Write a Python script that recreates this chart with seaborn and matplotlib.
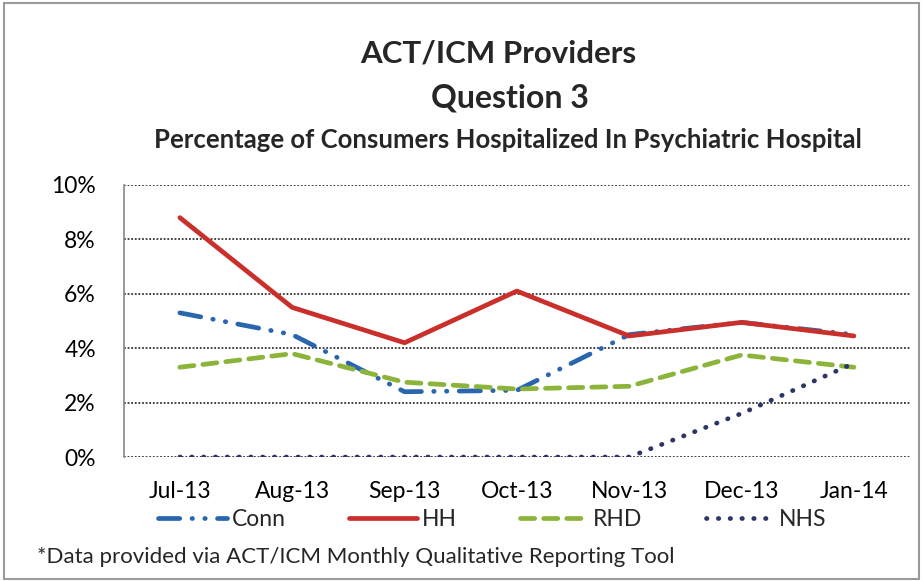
import matplotlib
matplotlib.use("Agg")
import matplotlib.pyplot as plt
import seaborn as sns
import pandas as pd
from matplotlib.patches import Rectangle
from matplotlib.ticker import PercentFormatter

months = ["Jul-13", "Aug-13", "Sep-13", "Oct-13", "Nov-13", "Dec-13", "Jan-14"]
conn = [5.3, 4.5, 2.4, 2.45, 4.5, 4.95, 4.5]
hh = [8.8, 5.5, 4.2, 6.1, 4.45, 4.95, 4.45]
rhd = [3.3, 3.8, 2.75, 2.5, 2.6, 3.75, 3.3]
nhs = [0.0, 0.0, 0.0, 0.0, 0.0, 1.6, 3.45]
series_names = ["Conn", "HH", "RHD", "NHS"]

sns.set_theme(style="white")
plt.rcParams['font.family'] = ['Lato', 'DejaVu Sans']

rows = []
for name, vals in zip(series_names, [conn, hh, rhd, nhs]):
    for i, v in enumerate(vals):
        rows.append({"pos": i, "value": v / 100.0, "series": name})
df = pd.DataFrame(rows)

fig = plt.figure(figsize=(9.23, 5.81), dpi=100)
fig.patches.append(Rectangle((0.004, 0.004), 0.992, 0.99, transform=fig.transFigure,
                             fill=False, edgecolor="#9a9a9a", linewidth=1.5))
ax = fig.add_axes([0.134, 0.2134, 0.852, 0.4682])

palette = {"Conn": "#2a66b0", "HH": "#c9302c", "RHD": "#8cb43a", "NHS": "#2d3566"}
dashes = {"Conn": (4.5, 2.6, 0.1, 2.6, 0.1, 2.6), "HH": "", "RHD": (3.0, 1.9), "NHS": (0.1, 2.4)}

sns.lineplot(data=df, x="pos", y="value", hue="series", style="series",
             hue_order=series_names, style_order=series_names,
             palette=palette, dashes=dashes, linewidth=3.4, ax=ax,
             sort=False, estimator=None)
for line in ax.lines:
    line.set_dash_capstyle("round")
    line.set_solid_capstyle("round")

ax.set_xlim(-0.5, 6.5)
ax.set_ylim(0, 0.10)
ax.set_xticks(range(len(months)))
ax.set_xticklabels(months)
ax.set_yticks([0, 0.02, 0.04, 0.06, 0.08, 0.10])
ax.yaxis.set_major_formatter(PercentFormatter(1.0, decimals=0))
ax.tick_params(axis="both", labelsize=16.5, colors="black", length=0)
ax.tick_params(axis="x", pad=17)
ax.tick_params(axis="y", pad=20)
ax.set_xlabel("")
ax.set_ylabel("")
ax.grid(axis="y", color="#333333", linestyle=(0, (1, 1)), linewidth=1.3)
ax.grid(axis="x", visible=False)
for s in ["top", "right", "bottom"]:
    ax.spines[s].set_visible(False)
ax.spines["left"].set_color("#888888")
ax.spines["left"].set_linewidth(1.2)

handles, labels = ax.get_legend_handles_labels()
leg = ax.legend(handles, labels, loc="upper left", bbox_to_anchor=(0.044, -0.19),
                ncol=4, frameon=False, fontsize=16.5, handlelength=3.0,
                columnspacing=2.75, handletextpad=0.2, borderaxespad=0, borderpad=0)

fig.text(0.54, 0.908, "ACT/ICM Providers", ha="center", va="center",
         fontsize=22.5, fontweight="bold")
fig.text(0.552, 0.832, "Question 3", ha="center", va="center",
         fontsize=23, fontweight="bold")
fig.text(0.55, 0.759, "Percentage of Consumers Hospitalized In Psychiatric Hospital",
         ha="center", va="center", fontsize=18.5, fontweight="bold")
fig.text(0.04, 0.042, "*Data provided via ACT/ICM Monthly Qualitative Reporting Tool",
         ha="left", va="center", fontsize=16)

fig.savefig("out.png", dpi=100)
